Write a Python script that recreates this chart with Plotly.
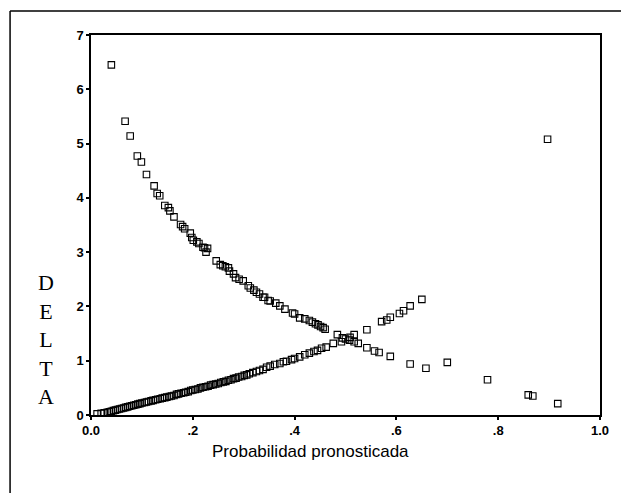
import plotly.graph_objects as go

# Lower (increasing) series: predicted probability vs DELTA
p_low = [0.012, 0.020, 0.026, 0.032, 0.036, 0.040, 0.044, 0.048, 0.052, 0.056,
         0.060, 0.064, 0.068, 0.072, 0.076, 0.080, 0.084, 0.088, 0.092, 0.096,
         0.100, 0.105, 0.109, 0.113, 0.118, 0.122, 0.127, 0.131, 0.136, 0.140,
         0.145, 0.149, 0.154, 0.158, 0.163, 0.168, 0.172, 0.177, 0.182, 0.186,
         0.191, 0.196, 0.200, 0.205, 0.210, 0.215, 0.220, 0.225, 0.230, 0.235,
         0.240, 0.245, 0.250, 0.255, 0.260, 0.265, 0.270, 0.275, 0.280, 0.285,
         0.290, 0.296, 0.301, 0.306, 0.311, 0.318, 0.325, 0.331, 0.338, 0.345,
         0.352, 0.361, 0.371, 0.378, 0.384, 0.394, 0.400, 0.410, 0.420, 0.429,
         0.438, 0.445, 0.453, 0.462, 0.476, 0.484, 0.492, 0.500, 0.509, 0.517,
         0.542, 0.571, 0.581, 0.588, 0.606, 0.614, 0.627, 0.650]
d_low = [0.02, 0.03, 0.04, 0.05, 0.06, 0.07, 0.08, 0.09, 0.10, 0.11,
         0.12, 0.13, 0.14, 0.15, 0.16, 0.17, 0.18, 0.19, 0.20, 0.21,
         0.22, 0.23, 0.24, 0.25, 0.26, 0.27, 0.28, 0.29, 0.30, 0.31,
         0.32, 0.33, 0.34, 0.35, 0.36, 0.38, 0.39, 0.40, 0.41, 0.42,
         0.43, 0.45, 0.46, 0.47, 0.48, 0.50, 0.51, 0.52, 0.53, 0.55,
         0.56, 0.57, 0.58, 0.60, 0.61, 0.62, 0.64, 0.65, 0.67, 0.68,
         0.70, 0.71, 0.73, 0.74, 0.76, 0.78, 0.80, 0.82, 0.84, 0.88,
         0.90, 0.93, 0.95, 0.98, 0.99, 1.02, 1.04, 1.07, 1.11, 1.14,
         1.17, 1.19, 1.23, 1.25, 1.32, 1.48, 1.35, 1.40, 1.43, 1.48,
         1.57, 1.72, 1.75, 1.80, 1.87, 1.92, 2.01, 2.13]

# Upper (decreasing) series
p_high = [0.040, 0.067, 0.077, 0.091, 0.099, 0.109, 0.124, 0.130, 0.135, 0.145,
          0.152, 0.155, 0.163, 0.176, 0.180, 0.184, 0.195, 0.198, 0.201, 0.208,
          0.212, 0.220, 0.223, 0.229, 0.226, 0.246, 0.254, 0.259, 0.264, 0.270,
          0.272, 0.280, 0.284, 0.291, 0.299, 0.309, 0.313, 0.320, 0.325, 0.331,
          0.338, 0.341, 0.348, 0.352, 0.363, 0.371, 0.381, 0.396, 0.400, 0.410,
          0.420, 0.429, 0.435, 0.441, 0.446, 0.451, 0.456, 0.460, 0.494, 0.508,
          0.517, 0.525, 0.542, 0.557, 0.566, 0.588, 0.627, 0.658, 0.700, 0.779,
          0.859, 0.868, 0.917, 0.897]
d_high = [6.45, 5.41, 5.14, 4.77, 4.66, 4.43, 4.22, 4.08, 4.04, 3.86,
          3.82, 3.76, 3.65, 3.51, 3.47, 3.43, 3.35, 3.27, 3.22, 3.19,
          3.16, 3.09, 3.08, 3.07, 3.00, 2.84, 2.77, 2.75, 2.73, 2.71,
          2.65, 2.60, 2.53, 2.50, 2.47, 2.38, 2.34, 2.30, 2.26, 2.23,
          2.17, 2.17, 2.11, 2.10, 2.06, 2.01, 1.95, 1.88, 1.86, 1.79,
          1.77, 1.74, 1.71, 1.68, 1.66, 1.63, 1.61, 1.58, 1.42, 1.38,
          1.35, 1.32, 1.24, 1.18, 1.15, 1.08, 0.94, 0.86, 0.97, 0.65,
          0.37, 0.35, 0.21, 5.08]

x_tickvals = [0, 0.2, 0.4, 0.6, 0.8, 1.0]
x_ticktext = ["0.0", ".2", ".4", ".6", ".8", "1.0"]
y_tickvals = [0, 1, 2, 3, 4, 5, 6, 7]

marker = dict(symbol="square-open", size=6.5, color="black", line=dict(width=1.1, color="black"))

fig = go.Figure()
fig.add_trace(go.Scatter(x=p_low, y=d_low, mode="markers", marker=marker, showlegend=False))
fig.add_trace(go.Scatter(x=p_high, y=d_high, mode="markers", marker=marker, showlegend=False))

tickfont = dict(family="Arial, Liberation Sans, sans-serif", size=13, color="black", weight="bold")

fig.update_layout(
    width=621, height=493, autosize=False,
    margin=dict(l=91, r=21, t=35, b=78, pad=0),
    paper_bgcolor="white", plot_bgcolor="white",
    xaxis=dict(range=[0, 1], tickvals=x_tickvals, ticktext=x_ticktext,
               showgrid=False, zeroline=False, showline=True, linecolor="black",
               linewidth=1.5, mirror=True, ticks="outside", ticklen=3, tickwidth=2,
               tickcolor="black", tickfont=tickfont),
    yaxis=dict(range=[0, 7], tickvals=y_tickvals,
               showgrid=False, zeroline=False, showline=True, linecolor="black",
               linewidth=1.5, mirror=True, ticks="outside", ticklen=3, tickwidth=2,
               tickcolor="black", tickfont=tickfont),
    annotations=[
        dict(text="Probabilidad pronosticada", xref="paper", yref="paper",
             x=0.432, y=-0.097, xanchor="center", yanchor="middle", showarrow=False,
             font=dict(family="Arial, Liberation Sans, sans-serif", size=17, color="black")),
        dict(text="D<br>E<br>L<br>T<br>A", xref="paper", yref="paper",
             x=-0.088, y=0.2, xanchor="center", yanchor="middle", showarrow=False,
             align="center",
             font=dict(family="Times New Roman, Liberation Serif, serif", size=22, color="black")),
    ],
    shapes=[
        dict(type="line", xref="paper", yref="paper", x0=-0.159, x1=1.1, y0=1.063, y1=1.063,
             line=dict(color="black", width=1.5)),
        dict(type="line", xref="paper", yref="paper", x0=-0.159, x1=-0.159, y0=1.063, y1=-0.3,
             line=dict(color="black", width=1.5)),
    ],
)

fig.write_html("out.html", config={"displayModeBar": False},
               post_script="document.body.style.margin='0';document.body.style.overflow='hidden';")
